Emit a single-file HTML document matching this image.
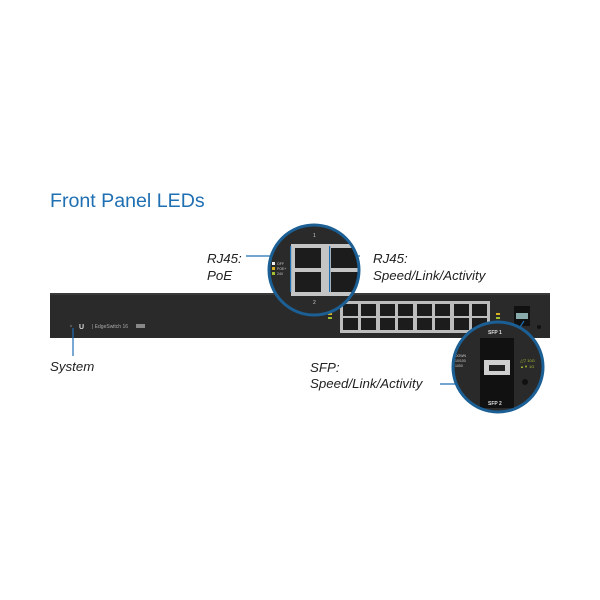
<!DOCTYPE html>
<html><head><style>body{margin:0;background:#fff}svg{display:block}</style></head><body>
<svg width="600" height="600" viewBox="0 0 600 600" xmlns="http://www.w3.org/2000/svg" font-family="Liberation Sans, sans-serif">
<defs>
<clipPath id="c1"><circle cx="314" cy="270" r="45"/></clipPath>
<clipPath id="c2"><circle cx="498" cy="367" r="45"/></clipPath>
</defs>
<rect width="600" height="600" fill="#fff"/>
<text x="50" y="207" font-size="19.6" fill="#1f6fb3">Front Panel LEDs</text>
<!-- switch body -->
<rect x="50" y="293" width="500" height="45" fill="#2a2a2a"/>
<rect x="50" y="293" width="500" height="2" fill="#3a3a3a"/>
<circle cx="71" cy="326" r="1.2" fill="#555"/>
<text x="79" y="329" font-size="7" fill="#ddd" font-weight="bold">U</text>
<text x="92" y="328" font-size="5" fill="#aaa">|  EdgeSwitch 16</text>
<rect x="136" y="324" width="9" height="4" fill="#888"/>
<!-- ports -->
<rect x="340" y="301" width="150" height="32" fill="#bdbdbd"/>
<g fill="#1c1c1c">
<rect x="343" y="304" width="15" height="12"/><rect x="361" y="304" width="15" height="12"/><rect x="380" y="304" width="15" height="12"/><rect x="398" y="304" width="15" height="12"/><rect x="417" y="304" width="15" height="12"/><rect x="435" y="304" width="15" height="12"/><rect x="454" y="304" width="15" height="12"/><rect x="472" y="304" width="15" height="12"/>
<rect x="343" y="318" width="15" height="12"/><rect x="361" y="318" width="15" height="12"/><rect x="380" y="318" width="15" height="12"/><rect x="398" y="318" width="15" height="12"/><rect x="417" y="318" width="15" height="12"/><rect x="435" y="318" width="15" height="12"/><rect x="454" y="318" width="15" height="12"/><rect x="472" y="318" width="15" height="12"/>
</g>
<rect x="328" y="313" width="4" height="2" fill="#d8b020"/><rect x="328" y="317" width="4" height="2" fill="#a4c030"/>
<rect x="496" y="313" width="4" height="2" fill="#d8b020"/><rect x="496" y="317" width="4" height="2" fill="#a4c030"/>
<rect x="514" y="306" width="16" height="20" fill="#111"/>
<rect x="516" y="313" width="12" height="6" fill="#8aa"/>
<circle cx="539" cy="327" r="2" fill="#111"/>
<!-- callout lines -->
<g stroke="#1f6fb3" stroke-width="1.2" fill="none">
<line x1="73" y1="328" x2="73" y2="356"/>
<line x1="246" y1="256" x2="290" y2="256"/>
<line x1="336" y1="256" x2="360" y2="256"/>
<line x1="345" y1="304" x2="338" y2="298"/>
<line x1="524" y1="321" x2="518" y2="330"/>
<line x1="440" y1="384" x2="486" y2="384"/>
</g>
<!-- magnifier 1 -->
<circle cx="314" cy="270" r="45" fill="#2a2a2a"/>
<g clip-path="url(#c1)">
<rect x="291" y="244" width="70" height="52" fill="#c4c4c4"/>
<rect x="295" y="248" width="26" height="20" fill="#1c1c1c"/><rect x="331" y="248" width="30" height="20" fill="#1c1c1c"/>
<rect x="295" y="272" width="26" height="20" fill="#1c1c1c"/><rect x="331" y="272" width="30" height="20" fill="#1c1c1c"/>
<rect x="290" y="246" width="1.2" height="46" fill="#1f6fb3"/><rect x="329" y="246" width="1.2" height="46" fill="#1f6fb3"/>
</g>
<circle cx="314" cy="270" r="45" fill="none" stroke="#1b5f94" stroke-width="3"/>
<text x="313" y="237" font-size="5" fill="#ccc">1</text>
<text x="313" y="304" font-size="5" fill="#ccc">2</text>
<rect x="272" y="262" width="3" height="3" fill="#eee"/><rect x="272" y="267" width="3" height="3" fill="#d8b020"/><rect x="272" y="272" width="3" height="3" fill="#a4c030"/>
<text x="277" y="265" font-size="3.5" fill="#ccc">OFF</text><text x="277" y="270" font-size="3.5" fill="#ccc">POE+</text><text x="277" y="275" font-size="3.5" fill="#ccc">24V</text>
<!-- magnifier 2 -->
<circle cx="498" cy="367" r="45" fill="#2a2a2a"/>
<g clip-path="url(#c2)">
<rect x="480" y="338" width="34" height="70" fill="#111"/>
<rect x="484" y="360" width="26" height="15" fill="#cfcfcf"/>
<rect x="489" y="365" width="16" height="6" fill="#222"/>
<text x="455" y="357" font-size="3.5" fill="#ccc">DOWN</text><text x="455" y="362" font-size="3.5" fill="#ccc">10/100</text><text x="455" y="367" font-size="3.5" fill="#ccc">1000</text>
</g>
<circle cx="498" cy="367" r="45" fill="none" stroke="#1b5f94" stroke-width="3"/>
<text x="488" y="334" font-size="5" fill="#ddd" font-weight="bold">SFP 1</text>
<text x="488" y="405" font-size="5" fill="#ddd" font-weight="bold">SFP 2</text>
<text x="520" y="362" font-size="4" fill="#a4c030">△▽ 10G</text><text x="520" y="368" font-size="4" fill="#a4c030">▲▼ 1G</text>
<circle cx="525" cy="382" r="3" fill="#111"/>
<!-- labels -->
<g font-size="13.3" font-style="italic" fill="#222">
<text x="207" y="263">RJ45:</text><text x="207" y="280">PoE</text>
<text x="373" y="263">RJ45:</text><text x="373" y="280">Speed/Link/Activity</text>
<text x="50" y="371">System</text>
<text x="310" y="372">SFP:</text><text x="310" y="388">Speed/Link/Activity</text>
</g>
</svg>
</body></html>
